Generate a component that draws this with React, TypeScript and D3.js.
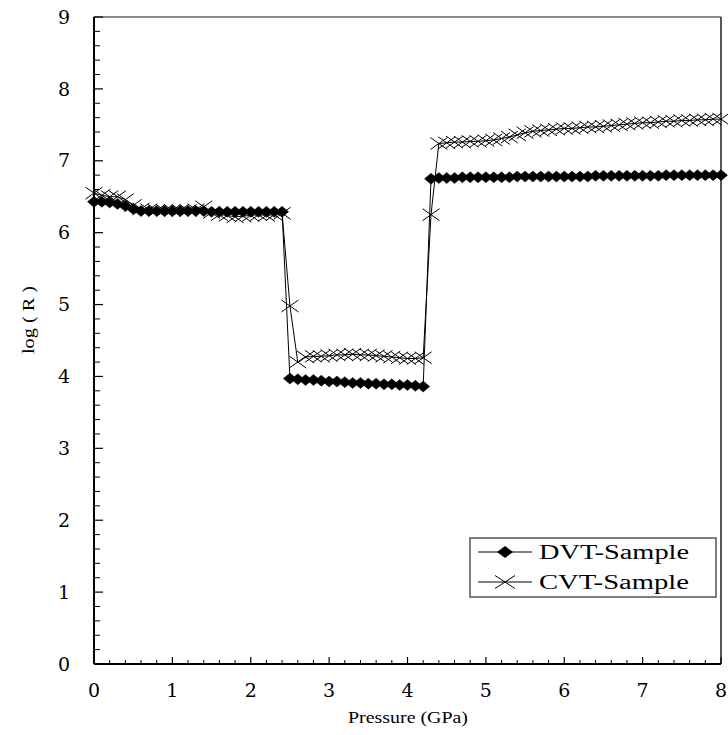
import React from "react";
import * as d3 from "d3";

const pressure = [
  0.0, 0.1, 0.2, 0.3, 0.4, 0.5, 0.6, 0.7, 0.8, 0.9,
  1.0, 1.1, 1.2, 1.3, 1.4, 1.5, 1.6, 1.7, 1.8, 1.9,
  2.0, 2.1, 2.2, 2.3, 2.4, 2.5, 2.6, 2.7, 2.8, 2.9,
  3.0, 3.1, 3.2, 3.3, 3.4, 3.5, 3.6, 3.7, 3.8, 3.9,
  4.0, 4.1, 4.2, 4.3, 4.4, 4.5, 4.6, 4.7, 4.8, 4.9,
  5.0, 5.1, 5.2, 5.3, 5.4, 5.5, 5.6, 5.7, 5.8, 5.9,
  6.0, 6.1, 6.2, 6.3, 6.4, 6.5, 6.6, 6.7, 6.8, 6.9,
  7.0, 7.1, 7.2, 7.3, 7.4, 7.5, 7.6, 7.7, 7.8, 7.9,
  8.0,
];

const dvtSample = [
  6.43, 6.43, 6.42, 6.40, 6.37, 6.33, 6.30, 6.30, 6.30, 6.30,
  6.30, 6.30, 6.30, 6.30, 6.30, 6.29, 6.29, 6.29, 6.29, 6.29,
  6.29, 6.29, 6.29, 6.29, 6.29, 3.97, 3.96, 3.95, 3.95, 3.94,
  3.93, 3.93, 3.92, 3.91, 3.91, 3.90, 3.90, 3.89, 3.89, 3.88,
  3.88, 3.87, 3.86, 6.75, 6.76, 6.76, 6.76, 6.77, 6.77, 6.77,
  6.77, 6.77, 6.77, 6.77, 6.78, 6.78, 6.78, 6.78, 6.78, 6.78,
  6.78, 6.78, 6.78, 6.78, 6.79, 6.79, 6.79, 6.79, 6.79, 6.79,
  6.79, 6.79, 6.79, 6.80, 6.80, 6.80, 6.80, 6.80, 6.80, 6.80,
  6.80,
];

const cvtSample = [
  6.55, 6.52, 6.50, 6.50, 6.46, 6.38, 6.33, 6.32, 6.31, 6.31,
  6.31, 6.31, 6.31, 6.32, 6.36, 6.28, 6.25, 6.24, 6.22, 6.23,
  6.24, 6.25, 6.24, 6.25, 6.27, 4.98, 4.20, 4.27, 4.28, 4.28,
  4.29, 4.30, 4.30, 4.31, 4.30, 4.30, 4.29, 4.28, 4.27, 4.26,
  4.25, 4.25, 4.26, 6.25, 7.24, 7.25, 7.26, 7.26, 7.27, 7.27,
  7.28, 7.29, 7.31, 7.33, 7.36, 7.39, 7.41, 7.42, 7.43, 7.44,
  7.45, 7.45, 7.46, 7.47, 7.47, 7.48, 7.49, 7.50, 7.51, 7.52,
  7.53, 7.53, 7.54, 7.55, 7.55, 7.56, 7.56, 7.57, 7.57, 7.58,
  7.58,
];

const xTickValues = [0, 1, 2, 3, 4, 5, 6, 7, 8];
const yTickValues = [0, 1, 2, 3, 4, 5, 6, 7, 8, 9];
const seriesNames = ["DVT-Sample", "CVT-Sample"];

const FONT = "'Liberation Serif', 'Times New Roman', serif";
const TICK_FONT = "'DejaVu Serif', 'Liberation Serif', serif";

const diamond = (cx: number, cy: number, w = 6.5, h = 5.5) =>
  `M${cx - w},${cy}L${cx},${cy - h}L${cx + w},${cy}L${cx},${cy + h}Z`;
const cross = (cx: number, cy: number, w = 8.5, h = 6) =>
  `M${cx - w},${cy - h}L${cx + w},${cy + h}M${cx - w},${cy + h}L${cx + w},${cy - h}`;

export default function App() {
  const x = d3.scaleLinear().domain([0, 8]).range([94, 721]);
  const y = d3.scaleLinear().domain([0, 9]).range([664, 17]);

  const dvt = pressure.map((p, i) => [p, dvtSample[i]] as [number, number]);
  const cvt = pressure.map((p, i) => [p, cvtSample[i]] as [number, number]);
  const line = d3
    .line<[number, number]>()
    .x((d) => x(d[0]))
    .y((d) => y(d[1]));

  const xMinor = d3.range(0, 40).map((i) => i * 0.2).filter((v) => Math.abs(v - Math.round(v)) > 1e-6);
  const yMinor = d3.range(0, 45).map((i) => i * 0.2).filter((v) => Math.abs(v - Math.round(v)) > 1e-6);

  const [x0, x1] = x.range();
  const [y0, y1] = y.range();

  const lg = { x: 470, y: 538, w: 246, h: 59 };

  return (
    <svg
      width={728}
      height={735}
      style={{ position: "absolute", left: 0, top: 0, background: "#fff" }}
      fontFamily={FONT}
    >
      {/* frame */}
      <line x1={x0} x2={x1} y1={y1} y2={y1} stroke="#666" strokeWidth={1.5} />
      <line x1={x1} x2={x1} y1={y1} y2={y0} stroke="#222" strokeWidth={1.5} />

      {/* x ticks */}
      {xMinor.map((v) => (
        <line key={"xm" + v} x1={x(v)} x2={x(v)} y1={y0} y2={y0 - 4} stroke="#000" strokeWidth={1} />
      ))}
      {xTickValues.map((v) => (
        <g key={"xt" + v}>
          <line x1={x(v)} x2={x(v)} y1={y0} y2={y0 - 7} stroke="#000" strokeWidth={1.2} />
          <text x={x(v)} y={y0 + 33} textAnchor="middle" fontSize={19} fontFamily={TICK_FONT}>
            {v}
          </text>
        </g>
      ))}

      {/* y ticks */}
      {yMinor.map((v) => (
        <line key={"ym" + v} x1={x0} x2={x0 + 6} y1={y(v)} y2={y(v)} stroke="#000" strokeWidth={1} />
      ))}
      {yTickValues.map((v) => (
        <g key={"yt" + v}>
          <line x1={x0} x2={x0 + 9} y1={y(v)} y2={y(v)} stroke="#000" strokeWidth={1.2} />
          <text x={70} y={y(v)} dy="0.35em" textAnchor="end" fontSize={19} fontFamily={TICK_FONT}>
            {v}
          </text>
        </g>
      ))}

      {/* axes */}
      <line x1={x0} x2={x0} y1={y1} y2={y0} stroke="#000" strokeWidth={2} />
      <line x1={x0} x2={x1} y1={y0} y2={y0} stroke="#000" strokeWidth={2} />

      {/* titles */}
      <text x={408} y={723} textAnchor="middle" fontSize={17} textLength={120} lengthAdjust="spacingAndGlyphs">
        Pressure (GPa)
      </text>
      <text
        transform={`translate(34, 320) rotate(-90)`}
        textAnchor="middle"
        fontSize={17}
        textLength={68}
        lengthAdjust="spacingAndGlyphs"
      >
        log ( R )
      </text>

      {/* CVT series */}
      <path d={line(cvt) || ""} fill="none" stroke="#000" strokeWidth={1} />
      {cvt.map((d, i) => (
        <path key={"c" + i} d={cross(x(d[0]), y(d[1]))} stroke="#000" strokeWidth={1} fill="none" />
      ))}

      {/* DVT series */}
      <path d={line(dvt) || ""} fill="none" stroke="#000" strokeWidth={1} />
      {dvt.map((d, i) => (
        <path key={"d" + i} d={diamond(x(d[0]), y(d[1]))} fill="#000" stroke="#000" strokeWidth={0.5} />
      ))}

      {/* legend */}
      <rect x={lg.x} y={lg.y} width={lg.w} height={lg.h} fill="#fff" stroke="#555" strokeWidth={1.5} />
      {seriesNames.map((name, i) => {
        const cy = lg.y + 14 + i * 30;
        return (
          <g key={name}>
            <line x1={lg.x + 8} x2={lg.x + 62} y1={cy} y2={cy} stroke="#000" strokeWidth={1} />
            {i === 0 ? (
              <path d={diamond(lg.x + 35, cy, 8, 6)} fill="#000" />
            ) : (
              <path d={cross(lg.x + 35, cy, 10, 6.5)} stroke="#000" strokeWidth={1} fill="none" />
            )}
            <text
              x={lg.x + 69}
              y={cy}
              dy="0.35em"
              fontSize={20}
              textLength={150}
              lengthAdjust="spacingAndGlyphs"
            >
              {name}
            </text>
          </g>
        );
      })}
    </svg>
  );
}
